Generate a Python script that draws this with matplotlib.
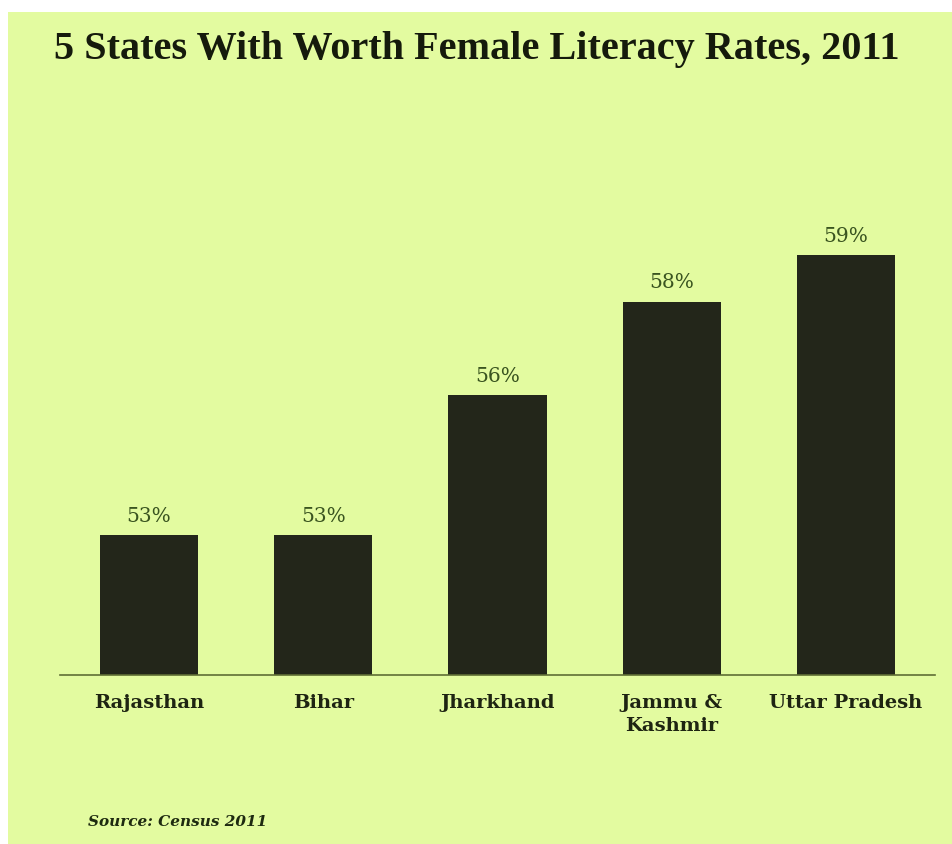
import matplotlib.pyplot as plt
from matplotlib.patches import Rectangle

# Data
states = ["Rajasthan", "Bihar", "Jharkhand", "Jammu &\nKashmir", "Uttar Pradesh"]
literacy = [53, 53, 56, 58, 59]
value_labels = ["53%", "53%", "56%", "58%", "59%"]

bg = "#e3fba0"
bar_color = "#23261a"
label_green = "#3a5420"

fig = plt.figure(figsize=(9.53, 8.44), dpi=100)
fig.patch.set_facecolor("white")
# light background panel with a thin white margin at top and left
fig.patches.append(Rectangle((8 / 953, 0), 1, 1 - 12 / 844, transform=fig.transFigure,
                             facecolor=bg, edgecolor="none", zorder=-10))

ax = fig.add_axes([60 / 953, 169 / 844, 875 / 953, 560 / 844])
ax.set_facecolor("none")

x = range(len(states))
ax.bar(x, [v - 50 for v in literacy], bottom=50, width=0.5625, color=bar_color, zorder=2)

for i, v in enumerate(literacy):
    ax.text(i, v + 0.2, value_labels[i], ha="center", va="bottom",
            fontsize=14.5, color=label_green, family="DejaVu Serif")

ax.set_xlim(-0.51, 4.51)
ax.set_ylim(50, 62)
ax.set_yticks([])
ax.set_xticks(list(x))
ax.set_xticklabels(states, fontsize=14, fontweight="bold", family="DejaVu Serif",
                   color="#1e2412", linespacing=1.35)
ax.tick_params(axis="x", length=0, pad=14)
for side in ["top", "left", "right"]:
    ax.spines[side].set_visible(False)
ax.spines["bottom"].set_color("#5f6e35")
ax.spines["bottom"].set_linewidth(1.2)

fig.text(0.5, 1 - 50 / 844, "5 States With Worth Female Literacy Rates, 2011",
         ha="center", va="center", fontsize=29, fontweight="bold",
         family="Liberation Serif", color="#151a0c")

fig.text(88 / 953, 1 - 822 / 844, "Source: Census 2011", ha="left", va="center",
         fontsize=11, fontweight="bold", style="italic", family="DejaVu Serif",
         color="#1e2a10")

plt.savefig("out.png", dpi=100, facecolor=fig.get_facecolor())
